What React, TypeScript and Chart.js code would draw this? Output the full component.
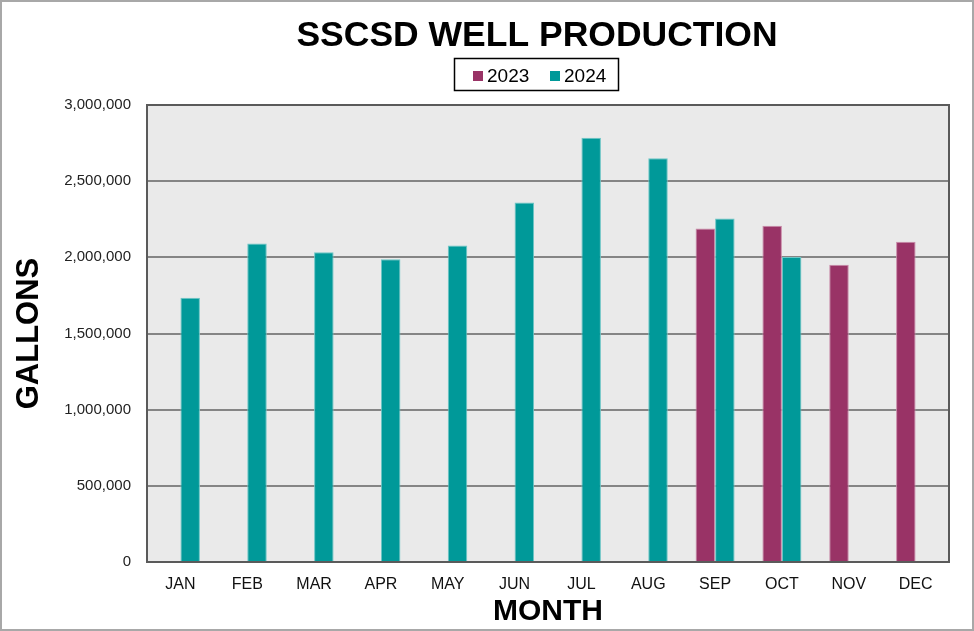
import React, { useEffect, useRef } from "react";
import { Chart, registerables } from "chart.js";

Chart.register(...registerables);

const TITLE = "SSCSD WELL PRODUCTION";
const X_TITLE = "MONTH";
const Y_TITLE = "GALLONS";
const MONTHS = ["JAN", "FEB", "MAR", "APR", "MAY", "JUN", "JUL", "AUG", "SEP", "OCT", "NOV", "DEC"];
const SERIES_2023 = [null, null, null, null, null, null, null, null, 2189000, 2208000, 1952000, 2103000];
const SERIES_2024 = [1735000, 2090000, 2033000, 1987000, 2077000, 2360000, 2785000, 2650000, 2255000, 2002000, null, null];
const Y_MIN = 0;
const Y_MAX = 3000000;
const Y_STEP = 500000;

const FONT = "'Liberation Sans', Arial, Helvetica, sans-serif";

const decorPlugin = {
  id: "decor",
  beforeDraw(chart: any) {
    const { ctx, chartArea } = chart;
    ctx.save();
    ctx.fillStyle = "#ffffff";
    ctx.fillRect(0, 0, chart.width, chart.height);
    ctx.fillStyle = "#EAEAEA";
    ctx.fillRect(chartArea.left, chartArea.top, chartArea.right - chartArea.left, chartArea.bottom - chartArea.top);
    ctx.restore();
  },
  afterDraw(chart: any) {
    const { ctx, chartArea } = chart;
    ctx.save();
    // plot border
    ctx.strokeStyle = "#5a5a5a";
    ctx.lineWidth = 2;
    ctx.strokeRect(chartArea.left, chartArea.top, chartArea.right - chartArea.left, chartArea.bottom - chartArea.top);
    // outer border
    ctx.strokeStyle = "#a8a8a8";
    ctx.lineWidth = 2;
    ctx.strokeRect(1, 1, chart.width - 2, chart.height - 2);
    // title
    const cx = 537;
    ctx.fillStyle = "#000";
    ctx.font = `bold 35.5px ${FONT}`;
    ctx.textAlign = "center";
    ctx.textBaseline = "alphabetic";
    ctx.fillText(TITLE, cx, 46);
    // legend
    ctx.strokeStyle = "#000";
    ctx.lineWidth = 1.5;
    ctx.strokeRect(454.5, 58.5, 164, 32);
    ctx.font = `19px ${FONT}`;
    ctx.textAlign = "left";
    const ds = chart.data.datasets;
    const itemX = [473, 550];
    ds.forEach((d: any, i: number) => {
      ctx.fillStyle = d.backgroundColor;
      ctx.fillRect(itemX[i], 71, 10, 10);
      ctx.fillStyle = "#000";
      ctx.fillText(d.label, itemX[i] + 14, 82);
    });
    ctx.restore();
  },
};

export default function App() {
  const ref = useRef<HTMLCanvasElement | null>(null);
  useEffect(() => {
    if (!ref.current) return;
    const chart = new Chart(ref.current, {
      type: "bar",
      data: {
        labels: MONTHS,
        datasets: [
          {
            label: "2023",
            data: SERIES_2023 as any,
            backgroundColor: "#993366",
            borderColor: "#c98aa8",
            borderWidth: 1,
            categoryPercentage: 0.584,
            barPercentage: 1,
          },
          {
            label: "2024",
            data: SERIES_2024 as any,
            backgroundColor: "#009999",
            borderColor: "#6cc6c6",
            borderWidth: 1,
            categoryPercentage: 0.584,
            barPercentage: 1,
          },
        ],
      },
      options: {
        responsive: false,
        animation: false,
        layout: { padding: { top: 105, right: 25, left: 0, bottom: 0 } },
        plugins: {
          legend: { display: false },
          title: { display: false },
          tooltip: { enabled: false },
        },
        scales: {
          x: {
            grid: { display: false, drawTicks: false },
            border: { display: false },
            ticks: { color: "#111", font: { family: FONT, size: 16 }, padding: 13 },
            title: {
              display: true,
              text: X_TITLE,
              color: "#000",
              font: { family: FONT, size: 30, weight: "bold", lineHeight: 1.2 },
              padding: { top: 0, bottom: 1 },
            },
            afterFit(scale: any) {
              scale.height = 69;
            },
          },
          y: {
            min: Y_MIN,
            max: Y_MAX,
            grid: { color: "#858585", lineWidth: 2, drawTicks: false },
            border: { display: false },
            ticks: {
              stepSize: Y_STEP,
              color: "#222",
              font: { family: FONT, size: 15 },
              padding: 16,
              callback: (v: any) => Number(v).toLocaleString("en-US"),
            },
            title: {
              display: true,
              text: Y_TITLE,
              color: "#000",
              font: { family: FONT, size: 31, weight: "bold", lineHeight: 1.2 },
              padding: { top: 11, bottom: 0 },
            },
            afterFit(scale: any) {
              scale.width = 147;
            },
          },
        },
      },
      plugins: [decorPlugin],
    });
    return () => chart.destroy();
  }, []);
  return (
    <div style={{ position: "fixed", left: 0, top: 0, width: 974, height: 631, background: "#fff" }}>
      <canvas ref={ref} width={974} height={631} style={{ display: "block" }} />
    </div>
  );
}
